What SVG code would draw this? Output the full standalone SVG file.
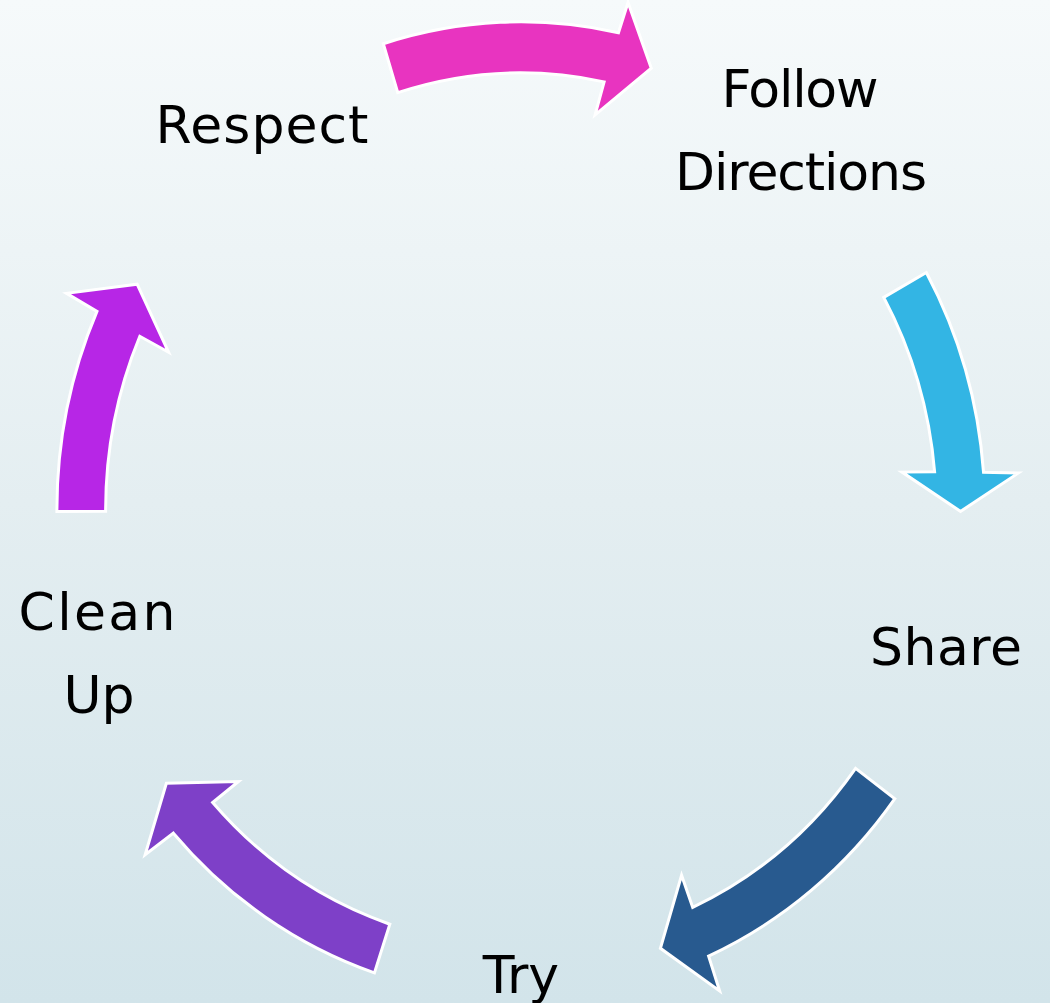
<svg xmlns="http://www.w3.org/2000/svg" width="1050" height="1003" viewBox="0 0 1050 1003">
  <defs>
    <linearGradient id="bg" x1="0" y1="0" x2="0" y2="1">
      <stop offset="0" stop-color="#F6FAFB"/>
      <stop offset="0.5" stop-color="#E4EEF1"/>
      <stop offset="1" stop-color="#D2E4EA"/>
    </linearGradient>
    <style>
      .lbl { font-family: "DejaVu Sans", "Liberation Sans", sans-serif; font-size: 52px; fill: #000000; text-anchor: middle; }
      .arr { stroke: #FFFFFF; stroke-width: 3; stroke-linejoin: miter; }
    </style>
  </defs>
  <rect x="0" y="0" width="1050" height="1003" fill="url(#bg)"/>

  <g id="connectors">
    <path id="arrow-respect-follow" class="arr" fill="#E834C0" d="M 383.31 43.75 A 464 488 0 0 1 618.49 32.72 L 628.02 2.44 L 651.27 68.22 L 595.13 114.84 L 604.13 81.90 A 415.28 436.76 0 0 0 397.75 92.69 Z"/>
    <path id="arrow-follow-share" class="arr" fill="#33B5E4" d="M 926.33 272.47 A 464 488 0 0 1 983.53 472.27 L 1018.47 472.93 L 960.54 511.41 L 902.02 472.12 L 934.61 471.81 A 415.28 436.76 0 0 0 883.76 297.39 Z"/>
    <path id="arrow-share-try" class="arr" fill="#285A8F" d="M 894.85 798.70 A 464 488 0 0 1 708.59 956.09 L 719.63 990.96 L 660.40 948.28 L 681.57 875.22 L 692.71 907.42 A 415.28 436.76 0 0 0 855.59 768.37 Z"/>
    <path id="arrow-try-cleanup" class="arr" fill="#7E40C8" d="M 374.44 972.85 A 464 488 0 0 1 173.39 833.16 L 145.14 854.80 L 166.36 783.21 L 238.44 781.53 L 212.65 802.48 A 415.28 436.76 0 0 0 389.82 924.23 Z"/>
    <path id="arrow-cleanup-respect" class="arr" fill="#B726E6" d="M 56.9 511.5 A 464 488 0 0 1 96.99 311.38 L 66.55 293.33 L 137.13 284.23 L 168.60 352.29 L 139.82 336.27 A 415.28 436.76 0 0 0 105.62 511.32 Z"/>
  </g>

  <g id="node-respect">
    <text class="lbl" x="262" y="143" textLength="213" lengthAdjust="spacing">Respect</text>
  </g>
  <g id="node-follow-directions">
    <text class="lbl" x="800" y="107" textLength="157" lengthAdjust="spacing">Follow</text>
    <text class="lbl" x="801" y="190" textLength="252" lengthAdjust="spacing">Directions</text>
  </g>
  <g id="node-share">
    <text class="lbl" x="946" y="665" textLength="152" lengthAdjust="spacing">Share</text>
  </g>
  <g id="node-try">
    <text class="lbl" x="521" y="993">Try</text>
  </g>
  <g id="node-clean-up">
    <text class="lbl" x="97" y="630" textLength="157" lengthAdjust="spacing">Clean</text>
    <text class="lbl" x="99" y="713">Up</text>
  </g>
</svg>
